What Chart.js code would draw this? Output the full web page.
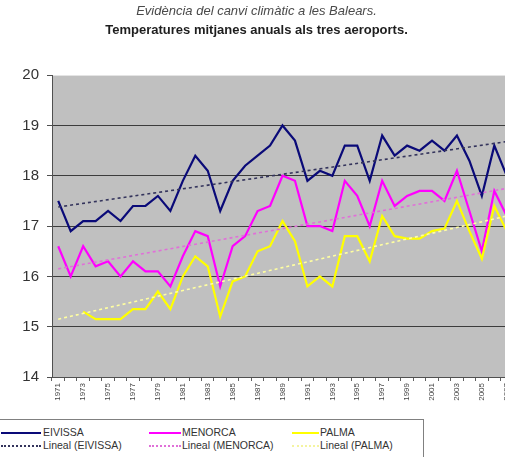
<!DOCTYPE html>
<html>
<head>
<meta charset="utf-8">
<script src="https://cdn.jsdelivr.net/npm/chart.js@4/dist/chart.umd.min.js"></script>
<style>
  html, body { margin:0; padding:0; background:#fff; overflow:hidden; width:505px; height:457px; }
  #wrap { position:relative; width:505px; height:457px; overflow:hidden; }
  #c { position:absolute; left:0; top:0; }
  #lg { position:absolute; left:-6px; top:419px; width:428px; height:50px; border:1px solid #808080; background:#fff;
        font-family:"Liberation Sans", Arial, sans-serif; font-size:10.5px; color:#333; }
  .it { position:absolute; white-space:nowrap; line-height:12px; }
  .sw { position:absolute; height:0; }
</style>
</head>
<body>
<div id="wrap">
  <canvas id="c" width="534" height="410"></canvas>
  <div id="lg"></div>
</div>
<script>
// ---- data ----
const years = ["1971","1972","1973","1974","1975","1976","1977","1978","1979","1980",
               "1981","1982","1983","1984","1985","1986","1987","1988","1989","1990",
               "1991","1992","1993","1994","1995","1996","1997","1998","1999","2000",
               "2001","2002","2003","2004","2005","2006","2007"];
const eivissa = [17.5,16.9,17.1,17.1,17.3,17.1,17.4,17.4,17.6,17.3,
                 17.9,18.4,18.1,17.3,17.9,18.2,18.4,18.6,19.0,18.7,
                 17.9,18.1,18.0,18.6,18.6,17.9,18.8,18.4,18.6,18.5,
                 18.7,18.5,18.8,18.3,17.6,18.6,18.0];
const menorca = [16.6,16.0,16.6,16.2,16.3,16.0,16.3,16.1,16.1,15.8,
                 16.4,16.9,16.8,15.8,16.6,16.8,17.3,17.4,18.0,17.9,
                 17.0,17.0,16.9,17.9,17.6,17.0,17.9,17.4,17.6,17.7,
                 17.7,17.5,18.1,17.3,16.5,17.7,17.2];
const palma   = [null,null,15.3,15.15,15.15,15.15,15.35,15.35,15.7,15.35,
                 16.0,16.4,16.2,15.2,15.9,16.0,16.5,16.6,17.1,16.7,
                 15.8,16.0,15.8,16.8,16.8,16.3,17.2,16.8,16.75,16.75,
                 16.9,16.95,17.5,16.9,16.35,17.4,16.9];
// linear trend lines: [value at first year, value at last year]
const trendEivissa = [17.38, 18.68];
const trendMenorca = [16.15, 17.75];
const trendPalma   = [15.15, 17.2];
const yTicks = [14,15,16,17,18,19,20];
const seriesNames = ["EIVISSA","MENORCA","PALMA"];
const trendNames = ["Lineal (EIVISSA)","Lineal (MENORCA)","Lineal (PALMA)"];

const FONT = "'Liberation Sans', Arial, sans-serif";
const C = { eiv:'#0a0a78', men:'#ff00ff', pal:'#ffff00', teiv:'#34345c', tmen:'#e070d8', tpal:'#ffffa0' };

function trendData(t){ return years.map((y,i)=> i===0 ? t[0] : (i===years.length-1 ? t[1] : null)); }

const plotBg = {
  id:'plotBg',
  beforeDraw(chart){
    const a = chart.chartArea, ctx = chart.ctx;
    ctx.save(); ctx.fillStyle = '#c0c0c0';
    ctx.fillRect(a.left, a.top, a.right-a.left, a.bottom-a.top);
    ctx.restore();
  }
};

new Chart(document.getElementById('c'), {
  type:'line',
  data:{
    labels: years,
    datasets:[
      { label:trendNames[0], data:trendData(trendEivissa), borderColor:C.teiv, borderWidth:1.6, borderDash:[3,3], pointRadius:0, spanGaps:true, order:0 },
      { label:trendNames[1], data:trendData(trendMenorca), borderColor:C.tmen, borderWidth:1.6, borderDash:[3,3], pointRadius:0, spanGaps:true, order:0 },
      { label:trendNames[2], data:trendData(trendPalma), borderColor:C.tpal, borderWidth:1.6, borderDash:[3,3], pointRadius:0, spanGaps:true, order:0 },
      { label:seriesNames[0], data:eivissa, borderColor:C.eiv, borderWidth:2.2, pointRadius:0, tension:0, order:3 },
      { label:seriesNames[1], data:menorca, borderColor:C.men, borderWidth:2.2, pointRadius:0, tension:0, order:2 },
      { label:seriesNames[2], data:palma, borderColor:C.pal, borderWidth:2.2, pointRadius:0, tension:0, order:1 }
    ]
  },
  options:{
    responsive:false, animation:false,
    layout:{ padding:{ left:0, right:21, top:0, bottom:0 } },
    plugins:{
      legend:{ display:false }, tooltip:{ enabled:false },
      title:{ display:true, text:'Evidència del canvi climàtic a les Balears.', color:'#4a4a4a',
              font:{ family:FONT, size:13, style:'italic', weight:'normal', lineHeight:1.2 }, padding:{ top:4, bottom:3 } },
      subtitle:{ display:true, text:'Temperatures mitjanes anuals als tres aeroports.', color:'#1e1e1e',
              font:{ family:FONT, size:13, weight:'bold', lineHeight:1.2 }, padding:{ top:0, bottom:37 } }
    },
    scales:{
      x:{
        type:'category', offset:true,
        grid:{ offset:true, drawOnChartArea:false, drawTicks:true, tickLength:4, color:'#606060' },
        border:{ display:true, color:'#505050' },
        ticks:{ autoSkip:false, maxRotation:90, minRotation:90, padding:2, color:'#444',
                font:{ family:FONT, size:8 }, callback:(v,i)=> i%2===0 ? years[i] : '' },
        afterFit:(s)=>{ s.height = 33; }
      },
      y:{
        min:yTicks[0], max:yTicks[yTicks.length-1],
        afterBuildTicks:(s)=>{ s.ticks = yTicks.map(v=>({value:v})); },
        grid:{ color:(ctx)=> ctx.tick && ctx.tick.value===20 ? '#e4e4e4' : '#3c3c3c', tickColor:'#505050', tickLength:5, lineWidth:1 },
        border:{ display:true, color:'#505050' },
        ticks:{ padding:8, color:'#333', font:{ family:FONT, size:15 } },
        afterFit:(s)=>{ s.width = 52; }
      }
    }
  },
  plugins:[plotBg]
});

// legend (HTML)
(function(){
  const lg = document.getElementById('lg');
  const off = 6; // legend box starts at x=-6
  const cols = [0, 148, 291];
  const swW = [40, 32, 27];
  const textX = [42, 181, 319];
  const solid = [C.eiv, C.men, C.pal];
  const dash = [C.teiv, C.tmen, '#f4f4a0'];
  const rows = [12, 25];
  for (let i=0;i<3;i++){
    const s1 = document.createElement('div'); s1.className='sw';
    s1.style.cssText = `left:${cols[i]+off}px; top:${rows[0]}px; width:${swW[i]}px; border-top:2px solid ${solid[i]};`;
    lg.appendChild(s1);
    const t1 = document.createElement('div'); t1.className='it';
    t1.style.left = (textX[i]+off)+'px'; t1.style.top = (rows[0]-6)+'px'; t1.textContent = seriesNames[i];
    lg.appendChild(t1);
    const s2 = document.createElement('div'); s2.className='sw';
    s2.style.cssText = `left:${cols[i]+off}px; top:${rows[1]}px; width:${swW[i]}px; border-top:2px dotted ${dash[i]};`;
    lg.appendChild(s2);
    const t2 = document.createElement('div'); t2.className='it';
    t2.style.left = (textX[i]+off)+'px'; t2.style.top = (rows[1]-6)+'px'; t2.textContent = trendNames[i];
    lg.appendChild(t2);
  }
})();
</script>
</body>
</html>
